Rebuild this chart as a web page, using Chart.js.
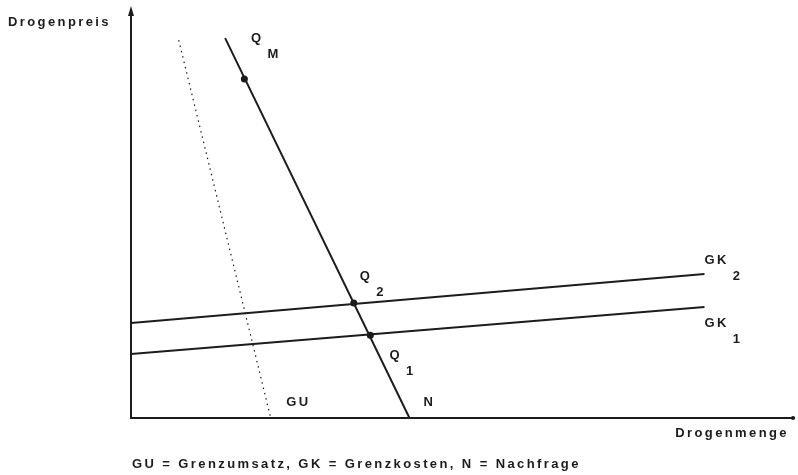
<!DOCTYPE html>
<html>
<head>
<meta charset="utf-8">
<script src="https://cdn.jsdelivr.net/npm/chart.js@4/dist/chart.umd.min.js"></script>
<style>
  html, body { margin: 0; padding: 0; background: #fff; }
  #wrap { width: 798px; height: 475px; }
</style>
</head>
<body>
<div id="wrap"><canvas id="chart"></canvas></div>
<script>
// both axes run 0..100 (no ticks in the original diagram)
const nachfrage = [[14.2, 93.1], [42.0, 0]];       // N
const grenzumsatz = [[7.2, 92.6], [21.0, 0.5]];    // GU
const grenzkosten1 = [[0, 15.7], [86.5, 27.2]];    // GK1
const grenzkosten2 = [[0, 23.3], [86.5, 35.3]];    // GK2
const punkte = [[17.1, 83.1], [33.6, 28.2], [36.1, 20.3]]; // QM, Q2, Q1

const labelMain = ['Q', 'Q', 'Q', 'GK', 'GK', 'GU', 'N'];
const labelSub = ['M', '2', '1', '2', '1', '', ''];
const labelX = [18.1, 34.5, 39.0, 86.5, 86.5, 23.4, 44.1];
const labelY = [93.1, 34.8, 15.4, 38.7, 23.3, 3.7, 3.7];

const yTitle = 'Drogenpreis';
const xTitle = 'Drogenmenge';
const footnote = 'GU = Grenzumsatz, GK = Grenzkosten, N = Nachfrage';

const toPts = arr => arr.map(p => ({ x: p[0], y: p[1] }));
const ink = '#1c1c1c';
const font = 'bold 13px "Liberation Sans", Arial, sans-serif';

const decor = {
  id: 'decor',
  afterDraw(chart) {
    const { ctx, chartArea: a, scales: { x, y } } = chart;
    ctx.save();
    ctx.fillStyle = ink;
    // arrow on y axis
    ctx.beginPath();
    ctx.moveTo(a.left, a.top - 4);
    ctx.lineTo(a.left - 3, a.top + 6);
    ctx.lineTo(a.left + 3, a.top + 6);
    ctx.closePath();
    ctx.fill();
    // small end mark on x axis
    ctx.beginPath();
    ctx.arc(a.right - 1, a.bottom, 2, 0, Math.PI * 2);
    ctx.fill();

    ctx.font = font;
    ctx.letterSpacing = '2.4px';
    ctx.textBaseline = 'middle';
    ctx.textAlign = 'left';
    labelMain.forEach((m, i) => {
      const px = x.getPixelForValue(labelX[i]);
      const py = y.getPixelForValue(labelY[i]);
      ctx.fillText(m, px, py);
      if (labelSub[i]) ctx.fillText(labelSub[i], px + ctx.measureText(m).width + 4, py + 16);
    });
    ctx.fillText(yTitle, 8, 22);
    ctx.textAlign = 'right';
    ctx.fillText(xTitle, 789, 433);
    ctx.textAlign = 'left';
    ctx.fillText(footnote, 132, 464);
    ctx.restore();
  }
};

const lineDs = (data, extra) => Object.assign({
  data: toPts(data),
  showLine: true,
  borderColor: ink,
  borderWidth: 2,
  pointRadius: 0,
  fill: false
}, extra || {});

new Chart(document.getElementById('chart'), {
  type: 'scatter',
  data: {
    datasets: [
      lineDs(nachfrage),
      lineDs(grenzumsatz, { borderWidth: 1.2, borderDash: [1.5, 4] }),
      lineDs(grenzkosten1),
      lineDs(grenzkosten2),
      {
        data: toPts(punkte),
        showLine: false,
        pointRadius: 3.5,
        pointBackgroundColor: ink,
        pointBorderColor: ink,
        borderWidth: 0
      }
    ]
  },
  options: {
    responsive: true,
    maintainAspectRatio: false,
    animation: false,
    layout: { padding: { left: 123, top: 10, right: 1, bottom: 49 } },
    plugins: { legend: { display: false }, tooltip: { enabled: false } },
    scales: {
      x: {
        type: 'linear', min: 0, max: 100,
        grid: { display: false },
        ticks: { display: false },
        border: { display: true, color: ink, width: 2 }
      },
      y: {
        type: 'linear', min: 0, max: 100,
        grid: { display: false },
        ticks: { display: false },
        border: { display: true, color: ink, width: 2 }
      }
    }
  },
  plugins: [decor]
});
</script>
</body>
</html>
